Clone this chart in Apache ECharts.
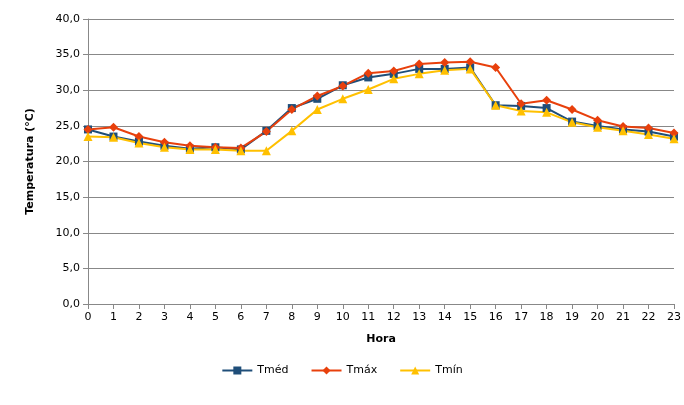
<!DOCTYPE html>
<html>
<head>
<meta charset="utf-8">
<script src="https://cdn.jsdelivr.net/npm/echarts@6/dist/echarts.min.js"></script>
<style>html,body{margin:0;padding:0;background:#fff}#chart{width:684px;height:405px}</style>
</head>
<body>
<div id="chart"></div>
<script>
const hours = ["0","1","2","3","4","5","6","7","8","9","10","11","12","13","14","15","16","17","18","19","20","21","22","23"];
const tmed = [24.5, 23.5, 22.8, 22.2, 21.8, 22.0, 21.7, 24.3, 27.5, 28.8, 30.7, 31.8, 32.3, 33.0, 33.0, 33.2, 27.9, 27.8, 27.5, 25.6, 25.0, 24.5, 24.2, 23.5];
const tmax = [24.5, 24.8, 23.5, 22.7, 22.2, 22.0, 21.9, 24.2, 27.3, 29.2, 30.6, 32.4, 32.7, 33.7, 33.9, 34.0, 33.2, 28.1, 28.6, 27.3, 25.8, 24.9, 24.7, 24.0];
const tmin = [23.5, 23.4, 22.6, 22.0, 21.7, 21.7, 21.5, 21.5, 24.3, 27.3, 28.8, 30.1, 31.6, 32.3, 32.8, 33.0, 27.9, 27.1, 26.9, 25.5, 24.8, 24.3, 23.8, 23.2];

const chart = echarts.init(document.getElementById("chart"));
const font = "Verdana, DejaVu Sans, sans-serif";
chart.setOption({
  animation: false,
  textStyle: { fontFamily: font },
  grid: { left: 88, right: 7, top: 19, bottom: 101 },
  legend: {
    bottom: 24, itemGap: 22, itemWidth: 30, itemHeight: 10,
    textStyle: { fontSize: 11, color: "#000", fontFamily: font },
    data: ["Tméd", "Tmáx", "Tmín"]
  },
  xAxis: {
    type: "category", data: hours, boundaryGap: false,
    name: "Hora", nameLocation: "middle", nameGap: 30,
    nameTextStyle: { fontWeight: "bold", fontSize: 11, color: "#000" },
    axisLine: { lineStyle: { color: "#888" } },
    axisTick: { show: true, alignWithLabel: true, lineStyle: { color: "#888" } },
    axisLabel: { color: "#000", fontSize: 11, interval: 0 }
  },
  yAxis: {
    type: "value", min: 0, max: 40, interval: 5,
    name: "Temperatura (°C)", nameLocation: "middle", nameGap: 52,
    nameTextStyle: { fontWeight: "bold", fontSize: 11, color: "#000" },
    axisLine: { show: true, lineStyle: { color: "#888" } },
    axisTick: { show: true, lineStyle: { color: "#888" } },
    axisLabel: { color: "#000", fontSize: 11, formatter: v => v.toFixed(1).replace(".", ",") },
    splitLine: { lineStyle: { color: "#888" } }
  },
  series: [
    { name: "Tméd", type: "line", data: tmed, symbol: "rect", symbolSize: 8,
      itemStyle: { color: "#1f4e79" }, lineStyle: { color: "#1f4e79", width: 2 } },
    { name: "Tmáx", type: "line", data: tmax, symbol: "diamond", symbolSize: 9,
      itemStyle: { color: "#e8400c" }, lineStyle: { color: "#e8400c", width: 2 } },
    { name: "Tmín", type: "line", data: tmin, symbol: "triangle", symbolSize: 9,
      itemStyle: { color: "#ffc000" }, lineStyle: { color: "#ffc000", width: 2 } }
  ]
});
</script>
</body>
</html>
